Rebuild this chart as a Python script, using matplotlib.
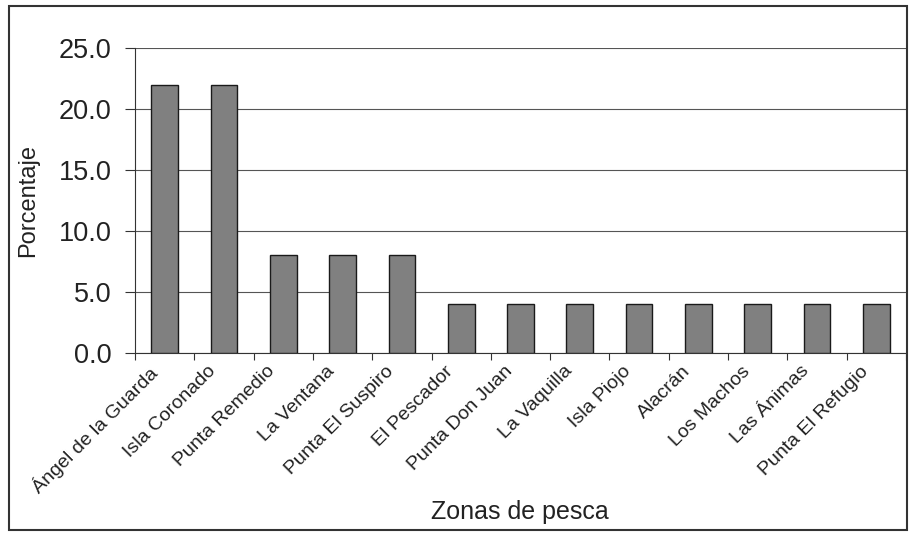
import numpy as np
import matplotlib.pyplot as plt
import matplotlib as mpl
from matplotlib.patches import Rectangle

# data
zonas = ["Ángel de la Guarda", "Isla Coronado", "Punta Remedio", "La Ventana",
         "Punta El Suspiro", "El Pescador", "Punta Don Juan", "La Vaquilla",
         "Isla Piojo", "Alacrán", "Los Machos", "Las Ánimas", "Punta El Refugio"]
porcentaje = [22.0, 22.0, 8.0, 8.0, 8.0, 4.0, 4.0, 4.0, 4.0, 4.0, 4.0, 4.0, 4.0]
yticks = [0, 5, 10, 15, 20, 25]

mpl.rcParams['font.family'] = ['Liberation Sans', 'DejaVu Sans']

fig = plt.figure(figsize=(9.12, 5.35), dpi=100, facecolor='w')
ax = fig.add_axes([135/912, 1 - 353/535, (906-135)/912, (353-48)/535])

x = np.arange(len(zonas))
ax.bar(x, porcentaje, width=0.45, color='#808080', edgecolor='#1a1a1a', linewidth=1.0, zorder=3)

ax.set_xlim(-0.5, len(zonas) - 0.5)
ax.set_ylim(0, 25)
ax.set_yticks(yticks)
ax.set_yticklabels(["%.1f" % v for v in yticks], fontsize=19.5, color='#222222')
ax.yaxis.grid(True, color='#555555', linewidth=0.8, zorder=0)

# ticks at category boundaries, labels under bars
ax.set_xticks(np.arange(len(zonas) + 1) - 0.5)
ax.set_xticklabels([])
ax.set_xticks(x - 0.28, minor=True)
ax.set_xticklabels(zonas, minor=True, rotation=45, ha='right', rotation_mode='anchor',
                   fontsize=14, color='#222222')
ax.tick_params(axis='x', which='minor', length=0, pad=7)
ax.tick_params(axis='x', which='major', length=5, direction='out', color='#333333')
ax.tick_params(axis='y', length=7, direction='out', color='#333333', pad=10)

for s in ['top', 'right']:
    ax.spines[s].set_visible(False)
ax.spines['left'].set_color('#333333')
ax.spines['bottom'].set_color('#333333')

ax.set_ylabel("Porcentaje", fontsize=17, labelpad=14, color='#222222')
fig.text(520/912, 1 - 512/535, "Zonas de pesca", fontsize=18, ha='center', va='center',
         color='#222222')

# outer frame
fig.patches.append(Rectangle((9/912, 1 - 530/535), (907-9)/912, (530-6)/535,
                             transform=fig.transFigure, fill=False,
                             edgecolor='#333333', linewidth=1.5))

plt.savefig("out.png", dpi=100)
